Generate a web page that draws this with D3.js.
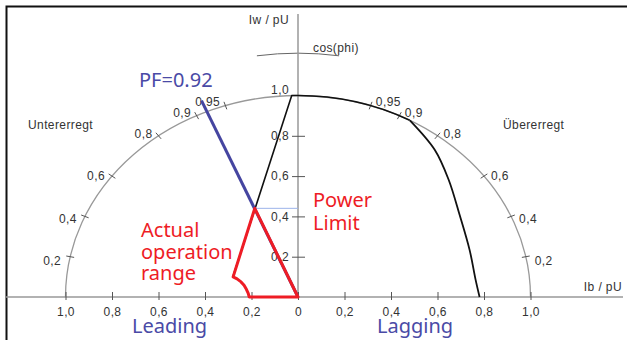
<!DOCTYPE html>
<html>
<head>
<meta charset="utf-8">
<title>Leistungsdiagramm</title>
<script src="https://cdn.jsdelivr.net/npm/d3@7/dist/d3.min.js"></script>
<style>
body { margin: 0; background: #fff; }
.small { font: 12px "Liberation Sans", Arial, sans-serif; fill: #333; letter-spacing: 0.4px; }
.big { font: 20px "Noto Sans", sans-serif; }
.axis path { display: none; }
.axis line { stroke: #555; stroke-width: 1; }
.axis text { font: 12px "Liberation Sans", Arial, sans-serif; fill: #333; letter-spacing: 0.4px; }
</style>
</head>
<body>
<script>
// values (x = Ib / pU, y = Iw / pU)
var xTicks = [-1, -0.8, -0.6, -0.4, -0.2, 0, 0.2, 0.4, 0.6, 0.8, 1];
var yTicks = [0.2, 0.4, 0.6, 0.8, 1.0];
var cosTicks = [0.95, 0.9, 0.8, 0.6, 0.4, 0.2];

// black capability curve: straight left flank, then arc up to cos=0.877, then falling edge
var flankLeft = [[-0.28, 0.1], [-0.027, 1.0], [0, 1.0]];
var arcEndCos = 0.877;
var fallingEdge = [[0.481, 0.877], [0.588, 0.731], [0.648, 0.582], [0.695, 0.408],
                   [0.738, 0.234], [0.764, 0.085], [0.781, 0]];

var pfLine = [[0, 0], [-0.415, 0.975]];
var limitLine = [[-0.186, 0.44], [0, 0.44]];
var operationRange = [[0, 0], [-0.186, 0.44], [-0.279, 0.1], [-0.262, 0.09], [-0.245, 0.075],
                      [-0.232, 0.058], [-0.222, 0.038], [-0.214, 0.018], [-0.21, 0]];

var W = 627, H = 340;
var svg = d3.select("body").append("svg").attr("width", W).attr("height", H);

var x = d3.scaleLinear().domain([-1, 1]).range([65.5, 530.5]);
var y = d3.scaleLinear().domain([0, 1]).range([297, 95.5]);
var rx = x(1) - x(0), ry = y(0) - y(1);

function fmt(v) { return v === 0 ? "0" : d3.format(".1f")(Math.abs(v)).replace(".", ","); }
function fmtCos(v) { return String(v).replace(".", ","); }

// frame
svg.append("rect").attr("x", 6.5).attr("y", 6.5).attr("width", 700).attr("height", 400)
    .attr("fill", "none").attr("stroke", "#111").attr("stroke-width", 2);

// outer cos(phi) circle
svg.append("path")
    .attr("d", "M" + x(-1) + "," + y(0) + " A" + rx + "," + ry + " 0 0 1 " + x(1) + "," + y(0))
    .attr("fill", "none").attr("stroke", "#999").attr("stroke-width", 1.3);

// small cos(phi) arc at the top
var k = 1.21, a0 = 8.4 * Math.PI / 180;
svg.append("path")
    .attr("d", "M" + (x(0) - rx * k * Math.sin(a0)) + "," + (y(0) - ry * k * Math.cos(a0)) +
        " A" + rx * k + "," + ry * k + " 0 0 1 " + (x(0) + rx * k * Math.sin(a0)) + "," + (y(0) - ry * k * Math.cos(a0)))
    .attr("fill", "none").attr("stroke", "#666").attr("stroke-width", 1);

// cos(phi) ticks and labels on both sides
[-1, 1].forEach(function(side) {
    cosTicks.forEach(function(c) {
        var s = Math.sqrt(1 - c * c);
        var px = x(side * s), py = y(c);
        var dx = px - x(0), dy = py - y(0), len = Math.sqrt(dx * dx + dy * dy);
        var ux = dx / len, uy = dy / len;
        svg.append("line")
            .attr("x1", px - ux * 4).attr("y1", py - uy * 4)
            .attr("x2", px + ux * 4).attr("y2", py + uy * 4)
            .attr("stroke", "#555").attr("stroke-width", 1);
        svg.append("text").attr("class", "small")
            .attr("x", px + side * (5 + (1 - c) * 5))
            .attr("y", py + 12 * (0.6 - c) * 0.9)
            .attr("dy", "0.35em")
            .attr("text-anchor", side < 0 ? "end" : "start")
            .text(fmtCos(c));
    });
});

// axes lines
svg.append("line").attr("x1", 6).attr("x2", 623).attr("y1", y(0)).attr("y2", y(0))
    .attr("stroke", "#999").attr("stroke-width", 1.5);
svg.append("line").attr("x1", x(0)).attr("x2", x(0)).attr("y1", 14).attr("y2", y(0))
    .attr("stroke", "#999").attr("stroke-width", 1.5);

// x axis
var gx = svg.append("g").attr("class", "axis")
    .attr("transform", "translate(0," + y(0) + ")")
    .call(d3.axisBottom(x).tickValues(xTicks).tickSize(3).tickPadding(7).tickFormat(fmt));
gx.selectAll(".tick line").attr("y1", -5);

// y axis
var gy = svg.append("g").attr("class", "axis")
    .attr("transform", "translate(" + x(0) + ",0)")
    .call(d3.axisLeft(y).tickValues(yTicks).tickSize(6).tickPadding(3).tickFormat(fmt));
gy.selectAll(".tick line").attr("x2", 7).attr("x1", -6)
    .filter(function(d) { return d === 1; }).remove();
gy.selectAll(".tick text").filter(function(d) { return d === 1; }).attr("y", -6);

// axis titles and regions
svg.append("text").attr("class", "small").attr("x", 289).attr("y", 24)
    .attr("text-anchor", "end").text("Iw / pU");
svg.append("text").attr("class", "small").attr("x", 622).attr("y", 291)
    .attr("text-anchor", "end").text("Ib / pU");
svg.append("text").attr("class", "small").attr("x", 313).attr("y", 52).text("cos(phi)");
svg.append("text").attr("class", "small").attr("x", 28).attr("y", 129).text("Untererregt");
svg.append("text").attr("class", "small").attr("x", 503).attr("y", 129).text("Übererregt");

var line = d3.line().x(function(d) { return x(d[0]); }).y(function(d) { return y(d[1]); });

// black capability curve
svg.append("path").attr("d", line(flankLeft))
    .attr("fill", "none").attr("stroke", "#111").attr("stroke-width", 1.6).attr("stroke-linejoin", "round");
svg.append("path")
    .attr("d", "M" + x(0) + "," + y(1) + " A" + rx + "," + ry + " 0 0 1 " +
        x(Math.sqrt(1 - arcEndCos * arcEndCos)) + "," + y(arcEndCos))
    .attr("fill", "none").attr("stroke", "#111").attr("stroke-width", 1.6);
svg.append("path").attr("d", line.curve(d3.curveCatmullRom)(fallingEdge))
    .attr("fill", "none").attr("stroke", "#111").attr("stroke-width", 1.8);
line.curve(d3.curveLinear);

// limit line and PF line
svg.append("path").attr("d", line(limitLine))
    .attr("fill", "none").attr("stroke", "#9db4ea").attr("stroke-width", 1);
svg.append("path").attr("d", line(pfLine))
    .attr("fill", "none").attr("stroke", "#4545a0").attr("stroke-width", 3);

// actual operation range
svg.append("path").attr("d", line(operationRange) + "Z")
    .attr("fill", "none").attr("stroke", "#ee1c25").attr("stroke-width", 3)
    .attr("stroke-linejoin", "round");

// annotations
svg.append("text").attr("class", "big").attr("x", 139).attr("y", 87)
    .attr("fill", "#4a4aa6").text("PF=0.92");
svg.append("text").attr("class", "big").attr("x", 313).attr("y", 207)
    .attr("fill", "#ee1c25").attr("font-size", "19px").text("Power");
svg.append("text").attr("class", "big").attr("x", 313).attr("y", 230)
    .attr("fill", "#ee1c25").attr("font-size", "19px").text("Limit");
["Actual", "operation", "range"].forEach(function(t, i) {
    svg.append("text").attr("class", "big").attr("x", 141).attr("y", 237 + i * 21.5)
        .attr("fill", "#ee1c25").text(t);
});
svg.append("text").attr("class", "big").attr("x", 132).attr("y", 333)
    .attr("fill", "#4a4aa6").attr("font-size", "18px").text("Leading");
svg.append("text").attr("class", "big").attr("x", 377).attr("y", 333)
    .attr("fill", "#4a4aa6").attr("font-size", "18px").text("Lagging");
</script>
</body>
</html>
